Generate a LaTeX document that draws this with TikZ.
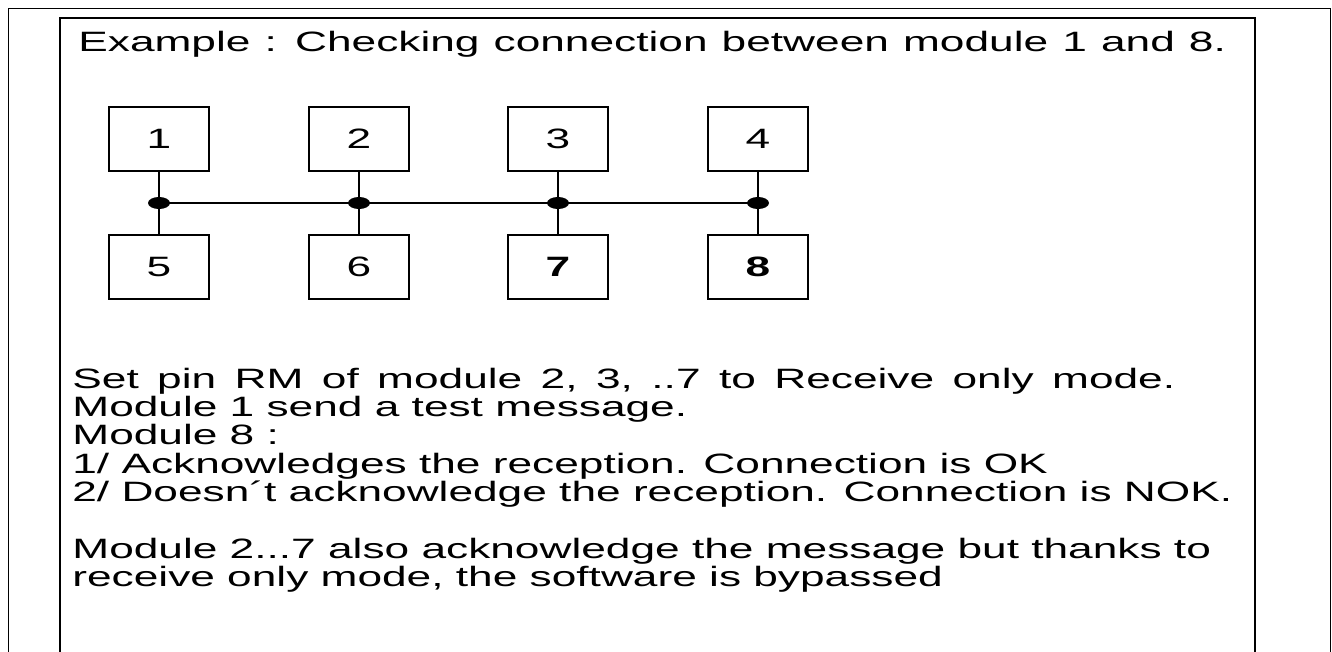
\documentclass[tikz,border=0pt]{standalone}
\usepackage{fontspec}
\setmainfont{Liberation Sans}[FakeStretch=1.58]
\usetikzlibrary{shapes.geometric}

\begin{document}
\begin{tikzpicture}[x=0.5pt,y=-0.5pt,
    module/.style={draw,line width=1pt,minimum width=50pt,minimum height=32pt,
                   inner sep=0pt,font=\fontsize{14}{17}\selectfont},
    junction/.style={ellipse,fill,inner sep=0pt,minimum width=11pt,minimum height=6pt},
    txt/.style={anchor=base west,inner sep=0pt,font=\fontsize{14}{17}\selectfont}]
    \useasboundingbox (0,0) rectangle (1332,652);
    % frames
    \draw[line width=0.5pt] (8,652) -- (8,9) -- (1330,9) -- (1330,652);
    \draw[line width=1pt] (60,652) -- (60,18) -- (1255,18) -- (1255,652);
    \node[txt] (title) at (78,52) {\spaceskip=1.15\fontdimen2\font
        Example : Checking connection between module 1 and 8.};
    % modules
    \foreach \i/\x in {1/159,2/359,3/558,4/758}
        \node[module] (m\i) at (\x,139) {\i};
    \node[module] (m5) at (159,267) {5};
    \node[module] (m6) at (359,267) {6};
    \node[module] (m7) at (558,267) {\bfseries 7};
    \node[module] (m8) at (758,267) {\bfseries 8};
    % bus
    \foreach \i/\x in {1/159,2/359,3/558,4/758}
        \coordinate (b\i) at (\x,203);
    \draw[line width=0.65pt] (b1) -- (b4);
    \foreach \i/\j in {1/5,2/6,3/7,4/8}
        \draw[line width=1pt] (m\i) -- (m\j);
    \foreach \i in {1,...,4}
        \node[junction] (j\i) at (b\i) {};
    % text
    \node[txt] (l1) at (72,388) {\spaceskip=1.5\fontdimen2\font
        Set pin RM of module 2, 3, ..7 to Receive only mode.};
    \node[txt] (l2) at (72,416) {Module 1 send a test message.};
    \node[txt] (l3) at (72,444) {Module 8 :};
    \node[txt] (l4) at (72,473) {1/ Acknowledges the reception. Connection is OK};
    \node[txt] (l5) at (72,501) {2/ Doesn´t acknowledge the reception. Connection is NOK.};
    \node[txt] (l6) at (72,558) {Module 2...7 also acknowledge the message but thanks to};
    \node[txt] (l7) at (72,586) {receive only mode, the software is bypassed};
\end{tikzpicture}
\end{document}
